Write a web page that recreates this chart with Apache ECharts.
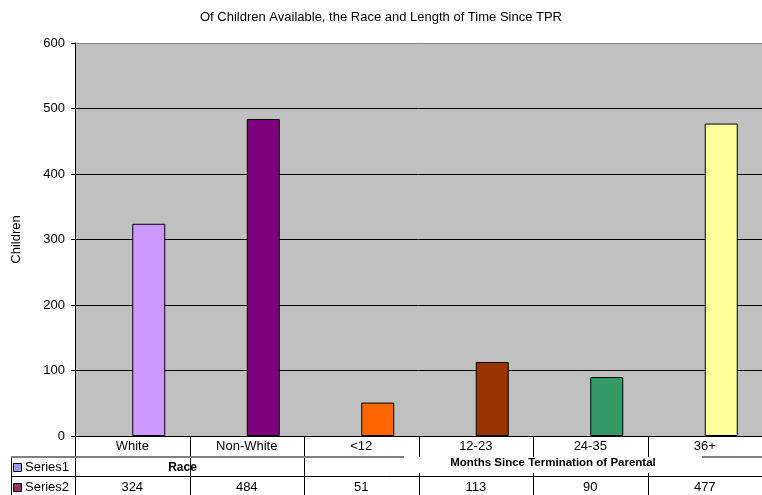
<!DOCTYPE html>
<html>
<head>
<meta charset="utf-8">
<script src="https://cdn.jsdelivr.net/npm/echarts@6/dist/echarts.min.js"></script>
<style>
html,body{margin:0;padding:0;background:#fff;}
#chart{width:762px;height:495px;}
</style>
</head>
<body>
<div id="chart"></div>
<script>
const chartTitle = 'Of Children Available, the Race and Length of Time Since TPR';
const categories = ['White', 'Non-White', '<12', '12-23', '24-35', '36+'];
const series1Values = [null, null, null, null, null, null];
const series2Values = [324, 484, 51, 113, 90, 477];
const barColors = ['#CC99FF', '#800080', '#FF6600', '#993300', '#339966', '#FFFF99'];
const seriesNames = ['Series1', 'Series2'];
const seriesKeyColors = ['#9999FF', '#993366'];
const groupLabels = ['Race', 'Months Since Termination of Parental'];
const groupFirst = [0, 2];
const groupLast = [1, 5];
const yTickValues = [0, 100, 200, 300, 400, 500, 600];
const yAxisName = 'Children';

const FONT = 'Liberation Sans, Arial, sans-serif';
const chart = echarts.init(document.getElementById('chart'), null, {renderer: 'canvas'});

const option = {
  animation: false,
  backgroundColor: '#ffffff',
  title: {
    text: chartTitle,
    left: 'center',
    top: 6,
    textStyle: {fontFamily: FONT, fontSize: 13, fontWeight: 'normal', color: '#000'}
  },
  grid: {
    left: 75, top: 43, width: 696, height: 393,
    show: true, backgroundColor: '#C0C0C0', borderWidth: 0
  },
  xAxis: {
    type: 'category',
    data: categories,
    axisLine: {lineStyle: {color: '#000', width: 1}},
    axisTick: {show: false},
    axisLabel: {fontFamily: FONT, fontSize: 13, color: '#000', margin: 4, interval: 0}
  },
  yAxis: {
    type: 'value',
    min: yTickValues[0],
    max: yTickValues[yTickValues.length - 1],
    interval: yTickValues[1] - yTickValues[0],
    name: yAxisName,
    nameLocation: 'middle',
    nameGap: 52,
    nameRotate: 90,
    nameTextStyle: {fontFamily: FONT, fontSize: 13, color: '#000'},
    axisLine: {show: true, lineStyle: {color: '#000', width: 1}},
    axisTick: {show: true, length: 4, lineStyle: {color: '#000'}},
    axisLabel: {fontFamily: FONT, fontSize: 13, color: '#000', margin: 10},
    splitLine: {show: true, lineStyle: {color: ['#000', '#000', '#000', '#000', '#000', '#000', '#808080'], width: 1}}
  },
  series: [
    {
      name: seriesNames[0], type: 'bar', data: series1Values,
      barWidth: 33, barGap: '0%',
      itemStyle: {color: seriesKeyColors[0], borderColor: '#000', borderWidth: 1}
    },
    {
      name: seriesNames[1], type: 'bar',
      data: series2Values.map((v, i) => ({value: v, itemStyle: {color: barColors[i]}})),
      barWidth: 33, barGap: '0%',
      itemStyle: {borderColor: '#000', borderWidth: 1}
    }
  ]
};
chart.setOption(option);

// Data table beneath the plot, positioned from the axis scales
const cx = categories.map((c, i) => chart.convertToPixel({xAxisIndex: 0}, i));
const half = (cx[1] - cx[0]) / 2;
const bound = i => cx[0] - half + i * 2 * half;
const y0 = chart.convertToPixel({yAxisIndex: 0}, 0);
const rowH = 20;
const r1 = y0 + rowH, r2 = y0 + 2 * rowH, r3 = y0 + 3 * rowH;
const tableLeft = 11;
const W = 762;
const els = [];
const line = (x1, y1, x2, y2, color, w) => els.push({
  type: 'line', shape: {x1, y1, x2, y2}, style: {stroke: color, lineWidth: w || 1}, z: 100
});
const text = (x, y, t, opts) => els.push({
  type: 'text', x, y, z: 101,
  style: Object.assign({text: String(t), font: '13px ' + FONT, fill: '#000', align: 'center', verticalAlign: 'middle'}, opts || {})
});

// left axis line extension and left table border
line(bound(0) + 0.5, y0, bound(0) + 0.5, r3, '#000');
line(tableLeft + 0.5, r1, tableLeft + 0.5, r3, '#000');
// vertical separators between categories
for (let i = 1; i < categories.length; i++) {
  const x = Math.round(bound(i)) + 0.5;
  const inMonths = i > groupFirst[1] && i <= groupLast[1];
  if (inMonths) {
    line(x, y0, x, r1 + 1, '#000');
    line(x, r2 - 3, x, r3, '#000');
  } else {
    line(x, y0, x, r3, '#000');
  }
}
// group label centers (offset from span centers, as in the reference)
const gCenter = g => (bound(groupFirst[g]) + bound(groupLast[g] + 1)) / 2;
const raceX = gCenter(0) - 7;
const monthsX = gCenter(1) + 20;
const monthsHalf = 149;
// gray line under category row, interrupted by the months label
line(tableLeft, r1 + 1, monthsX - monthsHalf, r1 + 1, '#808080', 2);
line(monthsX + monthsHalf, r1 + 1, W, r1 + 1, '#808080', 2);
// black line between series rows
line(tableLeft, r2 + 0.5, W, r2 + 0.5, '#000');

// series legend keys and names
[0, 1].forEach(s => {
  const yc = r1 + rowH * s + rowH / 2 + 1.5;
  els.push({type: 'rect', shape: {x: 13.5, y: yc - 4, width: 8, height: 8},
    style: {fill: seriesKeyColors[s], stroke: '#000', lineWidth: 1}, z: 101});
  text(25, yc, seriesNames[s], {align: 'left'});
});
// group labels
text(raceX, r1 + rowH / 2 + 2, groupLabels[0], {font: 'bold 12px ' + FONT});
text(monthsX, r1 + rowH / 2 - 3, groupLabels[1], {font: 'bold 11.5px ' + FONT});
// series2 values
series2Values.forEach((v, i) => text(cx[i], r2 + rowH / 2 + 1.5, v));

chart.setOption({graphic: els});
</script>
</body>
</html>
